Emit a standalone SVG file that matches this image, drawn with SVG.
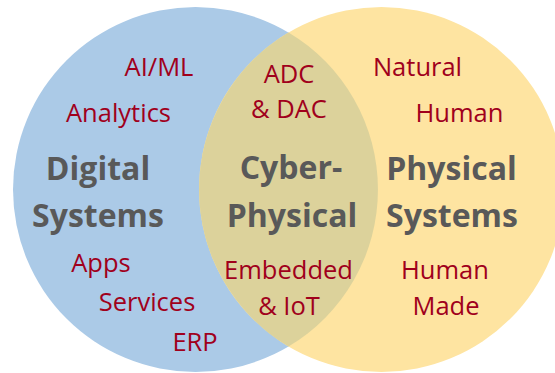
<svg xmlns="http://www.w3.org/2000/svg" width="555" height="373" viewBox="0 0 555 373">
  <style>
    .big { font-family: "Open Sans", "Liberation Sans", sans-serif; font-weight: bold; font-size: 32px; fill: #595959; text-anchor: middle; }
    .item { font-family: "Open Sans", "Liberation Sans", sans-serif; font-size: 25.5px; fill: #a0001c; text-anchor: middle; }
  </style>
  <rect width="555" height="373" fill="#ffffff"/>
  <g id="digital">
    <circle cx="195.5" cy="189.5" r="182.5" fill="#abcae7"/>
  </g>
  <g id="physical">
    <circle cx="381.5" cy="189.5" r="182.5" fill="#fee4a1"/>
  </g>
  <g id="cyber-physical">
    <path d="M288.5 32.5 A182.5 182.5 0 0 1 288.5 346.5 A182.5 182.5 0 0 1 288.5 32.5 Z" fill="#dcd29b"/>
  </g>
  <g id="digital-labels">
    <text class="big" x="98" y="180">Digital</text>
    <text class="big" x="98" y="227">Systems</text>
    <text class="item" x="159" y="76">AI/ML</text>
    <text class="item" x="118.5" y="122">Analytics</text>
    <text class="item" x="101" y="272">Apps</text>
    <text class="item" x="147" y="311">Services</text>
    <text class="item" x="195" y="351">ERP</text>
  </g>
  <g id="cyber-labels">
    <text class="big" x="291" y="179">Cyber-</text>
    <text class="big" x="292" y="227">Physical</text>
    <text class="item" x="289" y="83">ADC</text>
    <text class="item" x="289" y="118">&amp; DAC</text>
    <text class="item" x="288.5" y="279">Embedded</text>
    <text class="item" x="289" y="315">&amp; IoT</text>
  </g>
  <g id="physical-labels">
    <text class="big" x="451.5" y="180">Physical</text>
    <text class="big" x="452" y="227">Systems</text>
    <text class="item" x="417.5" y="76">Natural</text>
    <text class="item" x="459.5" y="122">Human</text>
    <text class="item" x="445" y="279">Human</text>
    <text class="item" x="446" y="315">Made</text>
  </g>
</svg>
